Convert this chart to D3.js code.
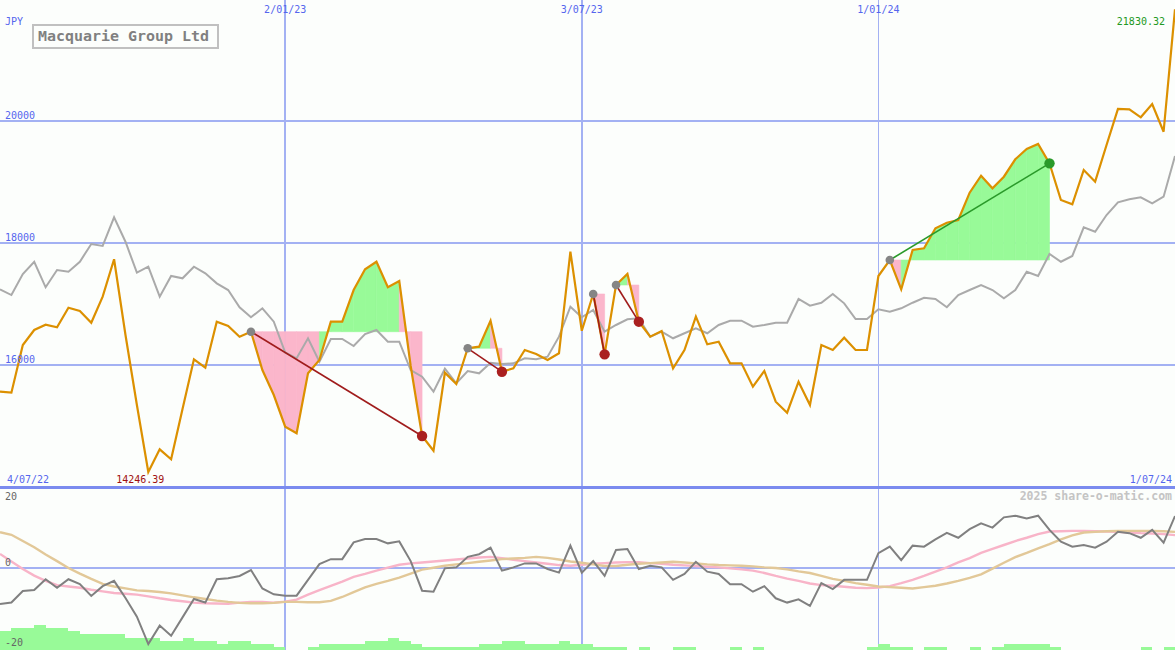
<!DOCTYPE html>
<html>
<head>
<meta charset="utf-8">
<script src="https://cdn.jsdelivr.net/npm/d3@7"></script>
<style>
  html, body { margin: 0; padding: 0; background: #fcfefc; }
  svg { display: block; }
  text { font-family: "DejaVu Sans Mono", "Liberation Mono", monospace; }
</style>
</head>
<body>
<svg id="chart" width="1175" height="650"></svg>
<script>
// ---------- DATA ----------
const firstWeek = "2022-07-11";
const lastWeek = "2024-07-01";

const price = [15562,15546,16328,16574,16661,16618,16939,16885,16693,17120,
  17733,16492,15344,14246.39,14618,14454,15279,16093,15956,16710,
  16639,16464,16546,15918,15508,14988,14880,15864,16082,16710,
  16710,17229,17569,17693,17274,17377,15984,14836,14595,15874,
  15689,16274,16300,16726,15890,15946,16246,16180,16082,16192,
  17857,16562,17164,16175,17311,17492,16710,16464,16557,15946,
  16246,16792,16339,16382,16028,16028,15644,15902,15398,15218,
  15726,15344,16328,16246,16447,16246,16246,17459,17721,17241,
  17885,17913,18241,18333,18377,18825,19103,18897,19087,19372,
  19541,19623,19306,18705,18634,19197,19005,19606,20197,20192,
  20061,20279,19824,21830.32];

const average = [17241,17147,17492,17693,17274,17557,17529,17693,17984,17951,
  18421,18021,17513,17611,17120,17459,17421,17611,17503,17339,
  17229,16946,16782,16929,16710,16205,16110,16438,16054,16426,
  16426,16311,16508,16574,16382,16382,15918,15808,15562,15939,
  15700,15902,15864,16038,16016,16028,16110,16093,16136,16464,
  16956,16782,16902,16546,16656,16749,16766,16464,16546,16438,
  16520,16602,16520,16656,16726,16726,16628,16656,16693,16693,
  17082,16972,17021,17164,17011,16754,16754,16913,16874,16929,
  17021,17103,17082,16946,17147,17229,17311,17229,17093,17229,
  17529,17459,17820,17693,17787,18257,18185,18459,18667,18716,
  18749,18651,18759,19426];

const momentum = [-11.0,-10.6,-7.1,-6.8,-3.5,-6.1,-3.5,-5.0,-8.6,-5.6,
  -4.0,-9.2,-14.9,-23.2,-17.6,-20.7,-15.1,-9.5,-10.6,-3.5,
  -3.2,-2.5,-0.7,-6.3,-8.1,-8.5,-8.5,-3.7,1.1,2.6,
  2.6,7.7,8.7,8.7,7.4,8.0,2.0,-7.0,-7.3,-0.2,
  0.1,3.3,4.1,6.1,-0.9,0.1,1.3,1.3,-0.4,-1.5,
  6.7,-1.5,2.0,-2.5,5.4,5.7,-0.4,0.6,0.1,-3.7,
  -1.9,1.8,-1.2,-1.9,-5.0,-5.0,-7.3,-5.6,-9.3,-10.6,
  -9.6,-11.6,-4.7,-6.5,-3.7,-3.7,-3.7,4.4,6.4,2.3,
  6.7,6.4,8.6,10.6,9.1,11.7,13.5,12.2,15.3,15.8,
  15.0,15.8,11.5,7.9,6.4,6.9,6.1,7.9,10.9,10.5,
  9.1,11.5,7.6,15.7];

const signalFast = [4.2,1.9,-0.4,-2.4,-4.0,-5.3,-5.7,-6.1,-6.7,-7.2,
  -7.7,-7.9,-8.2,-8.7,-9.3,-9.8,-10.2,-10.6,-10.8,-10.9,
  -11.0,-10.6,-10.4,-10.4,-10.6,-10.3,-9.7,-8.2,-6.8,-5.5,
  -4.2,-2.8,-1.9,-0.9,0.0,0.9,1.3,1.6,1.9,2.2,
  2.5,2.8,3.1,3.3,2.9,2.4,2.0,1.6,1.2,0.8,
  0.6,0.9,1.2,1.4,1.6,1.7,1.7,1.4,1.2,0.9,
  0.7,0.5,0.3,0.1,-0.2,-0.5,-0.9,-1.6,-2.5,-3.3,
  -4.0,-4.8,-5.3,-5.5,-5.8,-6.1,-6.2,-6.0,-5.6,-4.7,
  -3.7,-2.5,-1.2,0.1,1.6,2.9,4.5,5.7,6.9,8.1,
  9.1,10.2,11.0,11.1,11.2,11.2,11.1,11.0,10.9,10.7,
  10.5,10.4,10.2,9.9];

const signalSlow = [10.8,10.0,8.1,6.2,4.0,2.0,-0.1,-1.8,-3.4,-4.9,
  -5.7,-6.3,-6.9,-7.1,-7.4,-7.8,-8.4,-9.0,-9.5,-10.0,
  -10.4,-10.7,-10.8,-10.8,-10.7,-10.4,-10.4,-10.5,-10.5,-10.1,
  -8.9,-7.4,-6.0,-4.9,-4.0,-3.0,-1.8,-0.6,0.0,0.6,
  1.0,1.4,1.8,2.2,2.6,2.8,3.0,3.3,3.0,2.5,
  1.9,1.5,1.0,0.5,0.5,0.9,1.2,1.4,1.6,1.8,
  1.6,1.3,1.0,0.8,0.7,0.6,0.4,0.1,-0.1,-0.5,
  -1.1,-1.6,-2.5,-3.4,-4.0,-4.7,-5.2,-5.7,-5.9,-6.1,
  -6.3,-5.9,-5.5,-4.8,-4.0,-3.1,-2.0,-0.3,1.5,3.2,
  4.5,5.9,7.2,8.6,9.8,10.7,10.9,11.1,11.2,11.2,
  11.2,11.2,11.1,10.9];

const volumeBars = [6,7,7,8,7,7,6,5,5,5,
  5,4,4,4,3,3,4,3,3,2,
  3,3,2,2,1,0,0,1,2,2,
  2,2,3,3,4,3,2,1,1,1,
  1,1,2,2,3,3,2,2,2,3,
  2,2,1,1,1,0,1,0,0,1,
  1,0,0,0,1,0,1,0,0,0,
  0,0,0,0,0,0,1,2,1,1,
  0,1,1,0,0,1,0,1,2,2,
  2,2,1,0,0,0,0,0,0,0,
  1,0,1,0];

// trades: index of entry and exit week
const tradeStarts = [22, 41, 52, 54, 78];
const tradeEnds   = [37, 44, 53, 56, 92];

const priceTicks = [16000, 18000, 20000];
const priceTickLabels = ["16000", "18000", "20000"];
const dateTicks = ["2023-01-02", "2023-07-03", "2024-01-01"];
const dateTickLabels = ["2/01/23", "3/07/23", "1/01/24"];
const lowTicks = [20, 0, -20];
const lowTickLabels = ["20", "0", "-20"];

const title = "Macquarie Group Ltd";
const currency = "JPY";
const startLabel = "4/07/22";
const endLabel = "1/07/24";
const credit = "2025 share-o-matic.com";

// ---------- SETUP ----------
const W = 1175, H = 650;
const svg = d3.select("#chart");
const parse = d3.timeParse("%Y-%m-%d");
const dates = d3.timeMonday.range(parse(firstWeek), d3.timeDay.offset(parse(lastWeek), 1));

const x = d3.scaleTime().domain([parse(firstWeek), parse(lastWeek)]).range([0, W]);
const y = d3.scaleLinear().domain([14000, 20000]).range([487, 121]);
const yLow = d3.scaleLinear().domain([-20, 20]).range([633.5, 501.9]);
const yBar = d3.scaleLinear().domain([0, 8]).range([650, 625]);

const C = {
  bg: "#fcfefc", grid: "#a3b1f3", sep: "#7b8bef", text: "#5566ee",
  price: "#dc9000", avg: "#aaaaaa", mom: "#808080", fast: "#f8b4c8", slow: "#e2c898",
  up: "#98fa98", down: "#fbb6cb", lossLine: "#a01c1c", lossDot: "#aa2020",
  winLine: "#2a9a2a", winDot: "#2a9a2a", startDot: "#858585"
};

svg.append("rect").attr("width", W).attr("height", H).attr("fill", C.bg);

// ---------- GRID ----------
const grid = svg.append("g").attr("shape-rendering", "crispEdges");
grid.selectAll("line.h").data(priceTicks).join("line")
  .attr("x1", 0).attr("x2", W)
  .attr("y1", d => y(d)).attr("y2", d => y(d))
  .attr("stroke", C.grid).attr("stroke-width", 2);
grid.selectAll("line.v").data(dateTicks).join("line")
  .attr("x1", d => x(parse(d))).attr("x2", d => x(parse(d)))
  .attr("y1", 0).attr("y2", H)
  .attr("stroke", C.grid).attr("stroke-width", 1.5);
grid.append("line").attr("x1", 0).attr("x2", W)
  .attr("y1", yLow(0)).attr("y2", yLow(0))
  .attr("stroke", C.grid).attr("stroke-width", 2);
grid.append("line").attr("x1", 0).attr("x2", W)
  .attr("y1", 487).attr("y2", 487)
  .attr("stroke", C.sep).attr("stroke-width", 3);

// ---------- TRADE FILLS ----------
const fills = svg.append("g");
tradeStarts.forEach((s, k) => {
  const e = tradeEnds[k];
  const level = price[s];
  for (let i = s; i < e; i++) {
    const pts = [
      [x(dates[i]), y(level)], [x(dates[i]), y(price[i])],
      [x(dates[i + 1]), y(price[i + 1])], [x(dates[i + 1]), y(level)]
    ];
    fills.append("path")
      .attr("d", d3.line()(pts) + "Z")
      .attr("fill", price[i + 1] > level ? C.up : C.down)
      .attr("stroke", price[i + 1] > level ? C.up : C.down)
      .attr("stroke-width", 0.6);
  }
});

// ---------- LOWER PANEL ----------
svg.append("g").selectAll("rect").data(volumeBars).join("rect")
  .attr("x", (d, i) => x(dates[i]))
  .attr("width", (d, i) => i < dates.length - 1 ? x(dates[i + 1]) - x(dates[i]) : 0)
  .attr("y", d => yBar(d))
  .attr("height", d => yBar(0) - yBar(d))
  .attr("fill", C.up)
  .attr("shape-rendering", "crispEdges");

const lowLine = d3.line().x((d, i) => x(dates[i])).y(d => yLow(d));
svg.append("path").attr("d", lowLine(signalFast)).attr("fill", "none")
  .attr("stroke", C.fast).attr("stroke-width", 2.4);
svg.append("path").attr("d", lowLine(signalSlow)).attr("fill", "none")
  .attr("stroke", C.slow).attr("stroke-width", 2.4);
svg.append("path").attr("d", lowLine(momentum)).attr("fill", "none")
  .attr("stroke", C.mom).attr("stroke-width", 2);

// ---------- MAIN LINES ----------
const mainLine = d3.line().x((d, i) => x(dates[i])).y(d => y(d));
svg.append("path").attr("d", mainLine(average)).attr("fill", "none")
  .attr("stroke", C.avg).attr("stroke-width", 2);
svg.append("path").attr("d", mainLine(price)).attr("fill", "none")
  .attr("stroke", C.price).attr("stroke-width", 2.2);

// ---------- TRADE LINES & MARKERS ----------
const tr = svg.append("g");
tradeStarts.forEach((s, k) => {
  const e = tradeEnds[k];
  const win = price[e] > price[s];
  tr.append("line")
    .attr("x1", x(dates[s])).attr("y1", y(price[s]))
    .attr("x2", x(dates[e])).attr("y2", y(price[e]))
    .attr("stroke", win ? C.winLine : C.lossLine).attr("stroke-width", 1.6);
});
tradeStarts.forEach((s, k) => {
  const e = tradeEnds[k];
  const win = price[e] > price[s];
  tr.append("circle").attr("cx", x(dates[s])).attr("cy", y(price[s])).attr("r", 4.3)
    .attr("fill", C.startDot);
  tr.append("circle").attr("cx", x(dates[e])).attr("cy", y(price[e])).attr("r", 5.2)
    .attr("fill", win ? C.winDot : C.lossDot);
});

// ---------- TEXT ----------
const t = svg.append("g").attr("font-size", 10);
t.selectAll("text.py").data(priceTicks).join("text")
  .attr("x", 5).attr("y", d => y(d) - 2)
  .attr("fill", C.text).text((d, i) => priceTickLabels[i]);
t.selectAll("text.dt").data(dateTicks).join("text")
  .attr("x", d => x(parse(d))).attr("y", 12.5).attr("text-anchor", "middle")
  .attr("fill", C.text).text((d, i) => dateTickLabels[i]);
t.selectAll("text.lw").data(lowTicks).join("text")
  .attr("x", 5).attr("y", d => d < 0 ? yLow(d) + 12 : yLow(d) - 2)
  .attr("fill", "#666666").text((d, i) => lowTickLabels[i]);

t.append("text").attr("x", 5).attr("y", 25).attr("fill", C.text).text(currency);
t.append("text").attr("x", 7).attr("y", 483).attr("fill", C.text).text(startLabel);
t.append("text").attr("x", 1172).attr("y", 483).attr("text-anchor", "end")
  .attr("fill", C.text).text(endLabel);

const minIdx = d3.minIndex(price);
const maxIdx = d3.maxIndex(price);
t.append("text").attr("x", x(dates[minIdx]) - 8).attr("y", 483).attr("text-anchor", "middle")
  .attr("fill", "#a01010").text(d3.format(".2f")(price[minIdx]));
t.append("text").attr("x", x(dates[maxIdx]) - 10).attr("y", 25).attr("text-anchor", "end")
  .attr("fill", "#229922").text(d3.format(".2f")(price[maxIdx]));

t.append("text").attr("x", 1172).attr("y", 500).attr("text-anchor", "end")
  .attr("font-size", 11.5).attr("font-weight", "bold").attr("fill", "#c4c4c4").text(credit);

// title box
svg.append("rect").attr("x", 33).attr("y", 25).attr("width", 185).attr("height", 23)
  .attr("fill", C.bg).attr("stroke", "#c0c0c0").attr("stroke-width", 2)
  .attr("shape-rendering", "crispEdges");
svg.append("text").attr("x", 38).attr("y", 41).attr("font-size", 14)
  .attr("font-weight", "bold").attr("fill", "#808080")
  .attr("textLength", 171).attr("lengthAdjust", "spacingAndGlyphs")
  .text(title);
</script>
</body>
</html>
